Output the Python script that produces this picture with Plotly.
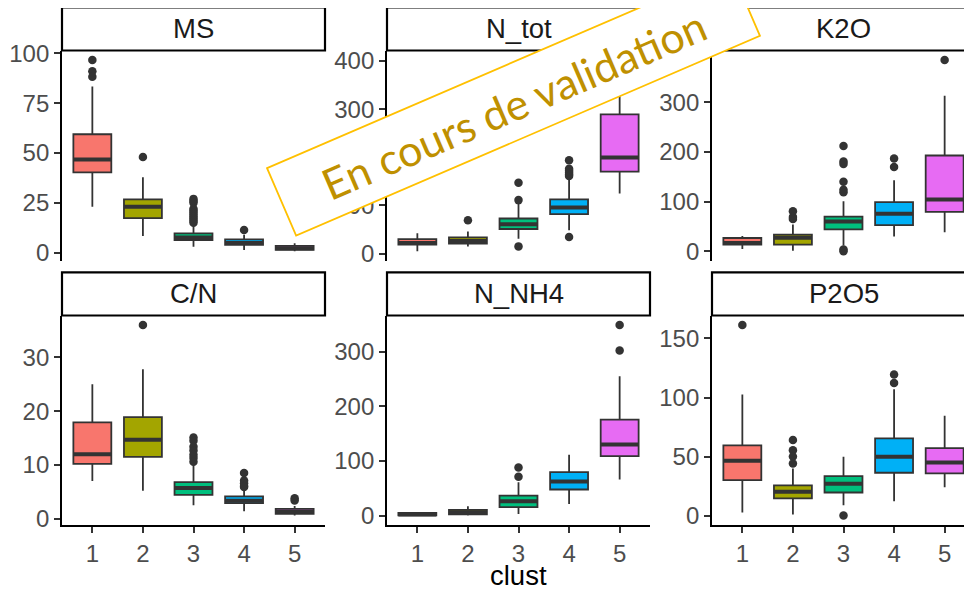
import math
import plotly.graph_objects as go

# ---------------- data ----------------
clusters = [1, 2, 3, 4, 5]
colors = ["#F8766D", "#A3A500", "#00BF7D", "#00B0F6", "#E76BF3"]
variables = ["MS", "N_tot", "K2O", "C/N", "N_NH4", "P2O5"]
y_dticks = [25, 100, 100, 10, 100, 50]

ms_q1 = [40.3, 17.4, 6.4, 3.9, 1.4]
ms_med = [46.8, 23.0, 7.6, 4.9, 2.3]
ms_q3 = [59.4, 26.8, 9.7, 6.7, 3.4]
ms_lo = [23.0, 8.4, 3.0, 1.35, 0.8]
ms_hi = [83.3, 37.8, 14.5, 9.0, 4.7]
ms_out = [[96.6, 91.0, 88.2], [48.0],
          [27.0, 26.0, 25.0, 22.0, 21.0, 20.0, 19.0, 18.0, 17.0, 16.0, 15.0],
          [11.4], []]

nt_q1 = [18.4, 20.5, 51.0, 81.8, 170.0]
nt_med = [21.8, 26.0, 61.0, 95.9, 199.7]
nt_q3 = [30.0, 33.7, 72.8, 112.6, 289.0]
nt_lo = [5.0, 14.9, 31.0, 48.4, 125.0]
nt_hi = [42.0, 46.0, 104.0, 153.0, 402.0]
nt_out = [[], [69.0], [147.0, 111.0, 14.9],
          [194.0, 176.0, 172.0, 168.0, 164.0, 161.0, 34.3], []]

k_q1 = [13.5, 13.5, 44.5, 53.0, 79.6]
k_med = [17.0, 27.7, 60.0, 75.6, 104.5]
k_q3 = [27.0, 33.8, 70.0, 99.0, 193.0]
k_lo = [5.0, 1.4, 12.0, 30.0, 38.5]
k_hi = [31.0, 54.0, 101.0, 143.0, 313.0]
k_out = [[], [81.0, 69.0, 65.0],
         [212.0, 181.0, 176.0, 140.0, 124.0, 119.0, 4.0, 0.5],
         [187.0, 170.0], [385.0]]

cn_q1 = [10.2, 11.5, 4.45, 2.9, 0.93]
cn_med = [12.0, 14.7, 5.7, 3.35, 1.3]
cn_q3 = [17.9, 18.9, 6.8, 4.15, 1.86]
cn_lo = [7.0, 5.2, 2.5, 1.4, 0.6]
cn_hi = [25.0, 27.8, 10.0, 5.5, 2.4]
cn_out = [[], [36.0], [15.1, 14.5, 13.4, 12.7, 11.9, 11.3, 10.6],
          [8.5, 7.1, 6.6, 6.1, 5.9], [3.8, 3.4]]

nh_q1 = [0.5, 2.4, 15.3, 47.8, 109.0]
nh_med = [2.0, 6.0, 26.3, 62.5, 130.0]
nh_q3 = [5.0, 10.4, 36.7, 79.6, 175.7]
nh_lo = [0.0, 0.0, 3.0, 21.4, 66.0]
nh_hi = [6.0, 17.0, 61.0, 111.5, 255.0]
nh_out = [[], [], [88.0, 71.0], [], [349.0, 302.5]]

p_q1 = [30.2, 14.7, 19.7, 36.4, 35.8]
p_med = [46.5, 20.3, 27.0, 50.0, 45.1]
p_q3 = [59.5, 25.7, 33.5, 65.4, 57.2]
p_lo = [2.8, 1.1, 9.0, 12.4, 24.2]
p_hi = [102.6, 40.0, 50.0, 106.9, 84.6]
p_out = [[161.3], [64.0, 55.5, 50.2, 44.3], [0.2], [119.5, 112.2], []]

stats = [
    (ms_q1, ms_med, ms_q3, ms_lo, ms_hi, ms_out),
    (nt_q1, nt_med, nt_q3, nt_lo, nt_hi, nt_out),
    (k_q1, k_med, k_q3, k_lo, k_hi, k_out),
    (cn_q1, cn_med, cn_q3, cn_lo, cn_hi, cn_out),
    (nh_q1, nh_med, nh_q3, nh_lo, nh_hi, nh_out),
    (p_q1, p_med, p_q3, p_lo, p_hi, p_out),
]

# ---------------- geometry (pixels, in the photographed page) ----------------
W, H = 972, 590
OFF = 8  # page body margin offsets the figure by 8 px
col_left = [62, 387, 712]
panel_w = 263
rows_plot = [(50.5, 260.7), (315.5, 525.1)]
rows_strip = [(7.5, 50.5), (272.3, 315.5)]
box_w = 0.75
px_per_unit = panel_w / 5.2

TICK_FONT = dict(family="Liberation Sans, Arial, sans-serif", size=24, color="#4D4D4D")
LINE_C = "#333333"

def px2x(p):
    return (p - OFF) / W

def px2y(p):
    return 1 - (p - OFF) / H

fig = go.Figure()
layout = dict(
    template="none",
    width=W, height=H, margin=dict(l=0, r=0, t=0, b=0, pad=0, autoexpand=False),
    paper_bgcolor="white", plot_bgcolor="white", showlegend=False,
    boxmode="overlay",
)
shapes = []
annotations = []

for k, var in enumerate(variables):
    r, c = divmod(k, 3)
    ax = "" if k == 0 else str(k + 1)
    xa, ya = "x" + ax, "y" + ax
    q1, med, q3, lo, hi, outs = stats[k]

    for i, cl in enumerate(clusters):
        fig.add_trace(go.Box(
            x=[cl], q1=[q1[i]], median=[med[i]], q3=[q3[i]],
            lowerfence=[lo[i]], upperfence=[hi[i]],
            width=box_w, whiskerwidth=0, fillcolor=colors[i],
            line=dict(color=LINE_C, width=1.8), boxpoints=False,
            hoverinfo="skip", xaxis=xa, yaxis=ya,
        ))
        fig.add_trace(go.Scatter(
            x=[cl - box_w / 2, cl + box_w / 2], y=[med[i], med[i]],
            mode="lines", line=dict(color=LINE_C, width=4),
            hoverinfo="skip", xaxis=xa, yaxis=ya,
        ))
        if outs[i]:
            fig.add_trace(go.Scatter(
                x=[cl] * len(outs[i]), y=outs[i], mode="markers",
                marker=dict(color=LINE_C, size=8.5),
                hoverinfo="skip", xaxis=xa, yaxis=ya,
            ))

    allv = lo + hi + [v for o in outs for v in o]
    vmin, vmax = min(allv), max(allv)
    span = vmax - vmin
    yr = [vmin - 0.05 * span, vmax + 0.05 * span]

    left = col_left[c]
    right = min(left + panel_w, W)
    xr = [0.4, 0.4 + (right - left) / px_per_unit]
    top, bot = rows_plot[r]
    bottom_row = (r == 1)

    layout["xaxis" + ax] = dict(
        domain=[px2x(left), min(1.0, px2x(right))], range=xr, anchor=ya, automargin=False,
        tickmode="array", tickvals=clusters, ticktext=[str(v) for v in clusters],
        showgrid=False, zeroline=False,
        showline=bottom_row, linecolor="black", linewidth=1.8,
        ticks="outside" if bottom_row else "", ticklen=6, tickwidth=1.6,
        tickcolor=LINE_C, showticklabels=bottom_row, tickfont=TICK_FONT,
    )
    layout["yaxis" + ax] = dict(
        domain=[px2y(bot), px2y(top)], range=yr, anchor=xa, automargin=False,
        dtick=y_dticks[k], tick0=0,
        showgrid=False, zeroline=False,
        showline=True, linecolor="black", linewidth=1.8,
        ticks="outside", ticklen=6, tickwidth=1.6, tickcolor=LINE_C,
        tickfont=TICK_FONT,
    )

    st, sb = rows_strip[r]
    shapes.append(dict(
        type="rect", xref="paper", yref="paper",
        x0=px2x(left), x1=px2x(left + panel_w), y0=px2y(sb), y1=px2y(st),
        line=dict(color="black", width=2.2), fillcolor="white", layer="below",
    ))
    annotations.append(dict(
        text=var, xref="paper", yref="paper",
        x=px2x(left + panel_w / 2), y=px2y((st + sb) / 2),
        xanchor="center", yanchor="middle", showarrow=False,
        font=dict(family="Liberation Sans, Arial, sans-serif", size=27.5, color="#1A1A1A"),
    ))

# x-axis title
annotations.append(dict(
    text="clust", xref="paper", yref="paper",
    x=px2x(col_left[1] + panel_w / 2), y=px2y(575),
    xanchor="center", yanchor="middle", showarrow=False,
    font=dict(family="Liberation Sans, Arial, sans-serif", size=27.5, color="black"),
))

# watermark
cx, cy, ww, wh, ang = 513.5, 102.0, 505.0, 73.5, 23.3
a = math.radians(ang)
ux, uy = math.cos(a), -math.sin(a)
vx, vy = math.sin(a), math.cos(a)
corners = []
for su, sv in [(-1, -1), (1, -1), (1, 1), (-1, 1)]:
    px = cx + su * ux * ww / 2 + sv * vx * wh / 2
    py = cy + su * uy * ww / 2 + sv * vy * wh / 2
    corners.append((px2x(px), px2y(py)))
path = "M " + " L ".join(f"{x:.5f},{y:.5f}" for x, y in corners) + " Z"
shapes.append(dict(
    type="path", xref="paper", yref="paper", path=path,
    line=dict(color="#FFC000", width=1.8), fillcolor="white", layer="above",
))
annotations.append(dict(
    text="En cours de validation", xref="paper", yref="paper",
    x=px2x(cx), y=px2y(cy + 2), xanchor="center", yanchor="middle",
    textangle=-ang, showarrow=False,
    font=dict(family="Lato, Open Sans, sans-serif", size=43, color="#BF9000"),
))

layout["shapes"] = shapes
layout["annotations"] = annotations
fig.update_layout(**layout)
fig.write_html("out.html")
